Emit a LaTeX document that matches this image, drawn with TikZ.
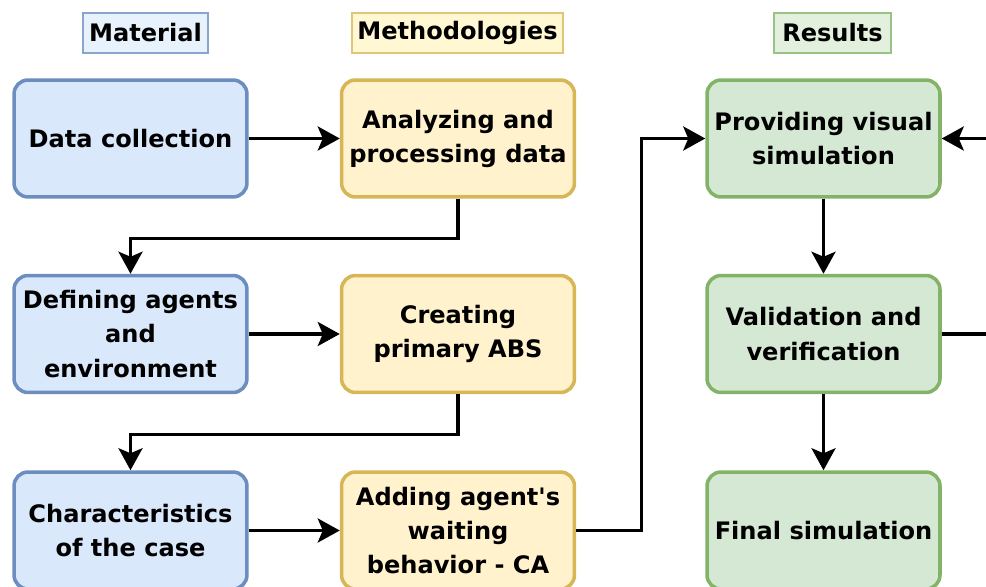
\documentclass[tikz,border=0pt]{standalone}
\usepackage{fontspec}
\setmainfont{DejaVu Sans}
\usetikzlibrary{arrows.meta,positioning}
\definecolor{bfill}{HTML}{DAE8FC}
\definecolor{bdraw}{HTML}{6C8EBF}
\definecolor{yfill}{HTML}{FFF2CC}
\definecolor{ydraw}{HTML}{D6B656}
\definecolor{gfill}{HTML}{D5E8D4}
\definecolor{gdraw}{HTML}{82B366}
\definecolor{hbfill}{HTML}{E8F2FD}
\definecolor{hyfill}{HTML}{FFF8D2}
\definecolor{hgfill}{HTML}{E2F0DD}
\tikzset{
  txt/.style={font=\bfseries\fontsize{13.7}{19.4}\selectfont, align=center, text=black},
  box/.style={txt, rounded corners=0.28cm, line width=2pt, minimum width=4.66cm, minimum height=2.34cm, inner sep=0pt},
  bbox/.style={box, draw=bdraw, fill=bfill},
  ybox/.style={box, draw=ydraw, fill=yfill},
  gbox/.style={box, draw=gdraw, fill=gfill},
  hdr/.style={txt, line width=0.9pt, minimum height=0.8cm, inner sep=0pt},
  conn/.style={line width=1.9pt, -{Stealth[length=0.44cm, width=0.48cm, inset=0.1cm]}}
}
\begin{document}
\begin{tikzpicture}[x=0.02cm, y=-0.02cm]
\useasboundingbox (0,0) rectangle (986,587);
% headers
\node[hdr, draw=bdraw!80, fill=hbfill, minimum width=2.5cm] (hm) at (145.5,33) {Material};
\node[hdr, draw=ydraw!80, fill=hyfill, minimum width=4.22cm] (hme) at (457.5,33) {Methodologies};
\node[hdr, draw=gdraw!80, fill=hgfill, minimum width=2.34cm] (hr) at (832.5,33) {Results};
% column 1
\node[bbox] (d1) at (130.5,138.5) {Data collection};
\node[bbox] (d2) at (130.5,334) {Defining agents\\and\\environment};
\node[bbox] (d3) at (130.5,530.5) {Characteristics\\of the case};
% column 2
\node[ybox] (a1) at (458,138.5) {Analyzing and\\processing data};
\node[ybox] (a2) at (458,334) {Creating\\primary ABS};
\node[ybox] (a3) at (458,530.5) {Adding agent\textquotesingle s\\waiting\\behavior - CA};
% column 3
\node[gbox] (g1) at (823.5,138.5) {Providing visual\\simulation};
\node[gbox] (g2) at (823.5,334) {Validation and\\verification};
\node[gbox] (g3) at (823.5,530.5) {Final simulation};
\coordinate (fb) at (1010,334);
% connectors
\draw[conn] (d1) -- (a1);
\draw[conn] (d2) -- (a2);
\draw[conn] (d3) -- (a3);
\draw[conn] (a1.south) -- ++(0,40) -| (d2.north);
\draw[conn] (a2.south) -- ++(0,40) -| (d3.north);
\draw[conn] (a3.east) -- ++(65,0) |- (g1.west);
\draw[conn] (g1) -- (g2);
\draw[conn] (g2) -- (g3);
\draw[conn] (g2.east) -- (fb) |- (g1.east);
\end{tikzpicture}
\end{document}
